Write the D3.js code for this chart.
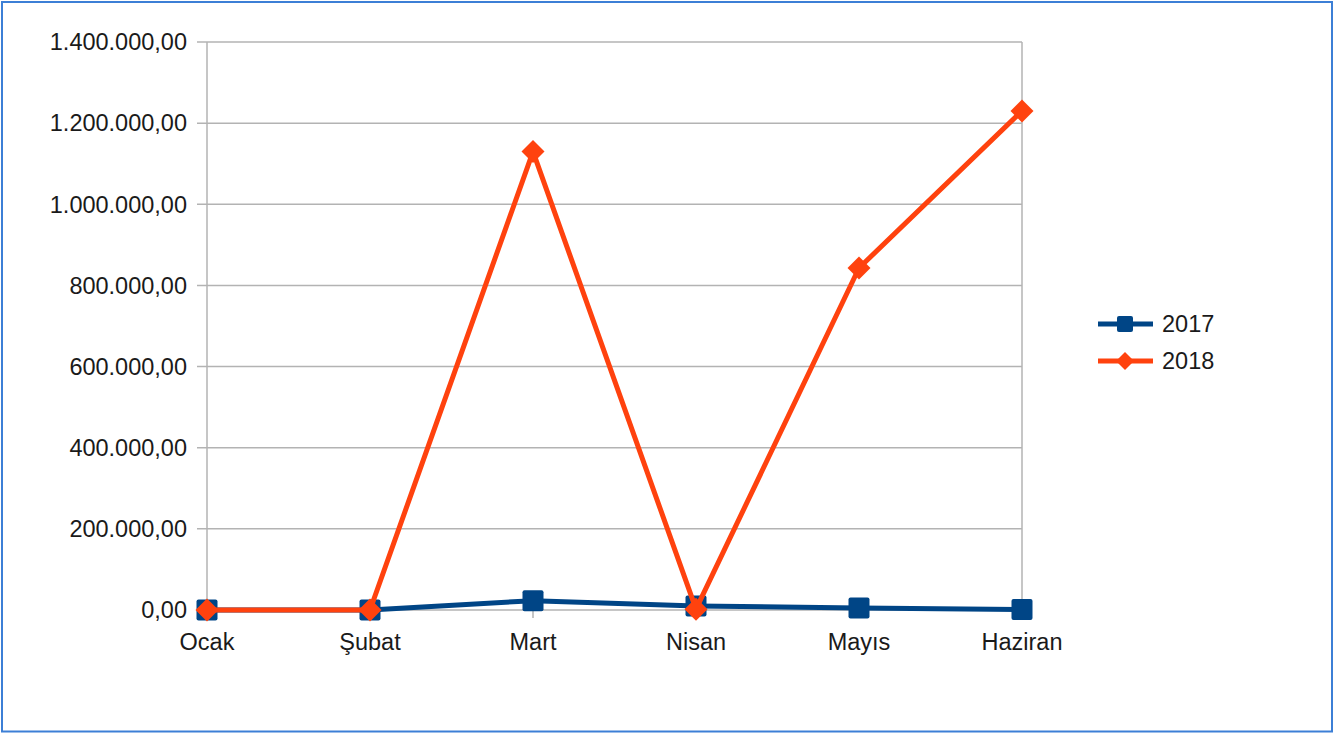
<!DOCTYPE html>
<html>
<head>
<meta charset="utf-8">
<script src="https://cdn.jsdelivr.net/npm/d3@7/dist/d3.min.js"></script>
<style>
  body { margin: 0; background: #fff; }
  svg { display: block; font-family: "Liberation Sans", Arial, sans-serif; }
</style>
</head>
<body>
<div id="chart"></div>
<script>
var months = ["Ocak", "Şubat", "Mart", "Nisan", "Mayıs", "Haziran"];
var values2017 = [0, 0, 23000, 10000, 5000, 1000];
var values2018 = [0, 0, 1130000, 2000, 843000, 1230000];
var yTicks = [0, 200000, 400000, 600000, 800000, 1000000, 1200000, 1400000];

var series = [
  { name: "2017", values: values2017, color: "#004586", marker: "square" },
  { name: "2018", values: values2018, color: "#ff420e", marker: "diamond" }
];

var width = 1337, height = 735;
var svg = d3.select("#chart").append("svg")
  .attr("width", width).attr("height", height);

// outer frame
svg.append("rect")
  .attr("x", 2).attr("y", 2)
  .attr("width", 1330).attr("height", 729.5)
  .attr("fill", "none")
  .attr("stroke", "#3c7fd6")
  .attr("stroke-width", 2);

var x = d3.scalePoint().domain(months).range([207, 1022]);
var y = d3.scaleLinear().domain([0, 1400000]).range([610, 42]);

var fmt = function(v) {
  var s = d3.format(",.2f")(v);
  return s.replace(/,/g, "#").replace(".", ",").replace(/#/g, ".");
};

// horizontal gridlines
svg.append("g").selectAll("line")
  .data(yTicks)
  .enter().append("line")
  .attr("x1", 197).attr("x2", 1022)
  .attr("y1", function(d) { return y(d); })
  .attr("y2", function(d) { return y(d); })
  .attr("stroke", "#b3b3b3")
  .attr("stroke-width", 1.5);

// vertical axis lines at ends
svg.append("line")
  .attr("x1", x("Ocak")).attr("x2", x("Ocak"))
  .attr("y1", y(1400000)).attr("y2", 618)
  .attr("stroke", "#b3b3b3").attr("stroke-width", 1.5);
svg.append("line")
  .attr("x1", x("Haziran")).attr("x2", x("Haziran"))
  .attr("y1", y(1400000)).attr("y2", 618)
  .attr("stroke", "#b3b3b3").attr("stroke-width", 1.5);

// x ticks
svg.append("g").selectAll("line")
  .data(months)
  .enter().append("line")
  .attr("x1", function(d) { return x(d); })
  .attr("x2", function(d) { return x(d); })
  .attr("y1", 610).attr("y2", 618)
  .attr("stroke", "#b3b3b3").attr("stroke-width", 1.5);

// y labels
svg.append("g").selectAll("text")
  .data(yTicks)
  .enter().append("text")
  .attr("x", 187)
  .attr("y", function(d) { return y(d); })
  .attr("dy", "0.35em")
  .attr("text-anchor", "end")
  .attr("font-size", 23.5)
  .attr("fill", "#1a1a1a")
  .text(fmt);

// x labels
svg.append("g").selectAll("text")
  .data(months)
  .enter().append("text")
  .attr("x", function(d) { return x(d); })
  .attr("y", 650)
  .attr("text-anchor", "middle")
  .attr("font-size", 23.5)
  .attr("fill", "#1a1a1a")
  .text(function(d) { return d; });

var line = d3.line()
  .x(function(d, i) { return x(months[i]); })
  .y(function(d) { return y(d); });

function drawMarker(g, type, color, size) {
  if (type === "square") {
    g.append("rect")
      .attr("x", -size / 2).attr("y", -size / 2)
      .attr("width", size).attr("height", size)
      .attr("rx", 2)
      .attr("fill", color);
  } else {
    var h = size / 2 + 1;
    g.append("path")
      .attr("d", "M0," + (-h) + "L" + h + ",0L0," + h + "L" + (-h) + ",0Z")
      .attr("fill", color);
  }
}

series.forEach(function(s) {
  svg.append("path")
    .datum(s.values)
    .attr("d", line)
    .attr("fill", "none")
    .attr("stroke", s.color)
    .attr("stroke-width", 5)
    .attr("stroke-linejoin", "round");

  s.values.forEach(function(v, i) {
    var g = svg.append("g")
      .attr("transform", "translate(" + x(months[i]) + "," + y(v) + ")");
    drawMarker(g, s.marker, s.color, 21);
  });
});

// legend
var legend = svg.append("g");
series.forEach(function(s, i) {
  var ly = 324 + i * 37;
  legend.append("line")
    .attr("x1", 1098).attr("x2", 1153)
    .attr("y1", ly).attr("y2", ly)
    .attr("stroke", s.color).attr("stroke-width", 5);
  var g = legend.append("g").attr("transform", "translate(1125," + ly + ")");
  drawMarker(g, s.marker, s.color, 16);
  legend.append("text")
    .attr("x", 1162).attr("y", ly)
    .attr("dy", "0.35em")
    .attr("font-size", 23.5)
    .attr("fill", "#1a1a1a")
    .text(s.name);
});
</script>
</body>
</html>
